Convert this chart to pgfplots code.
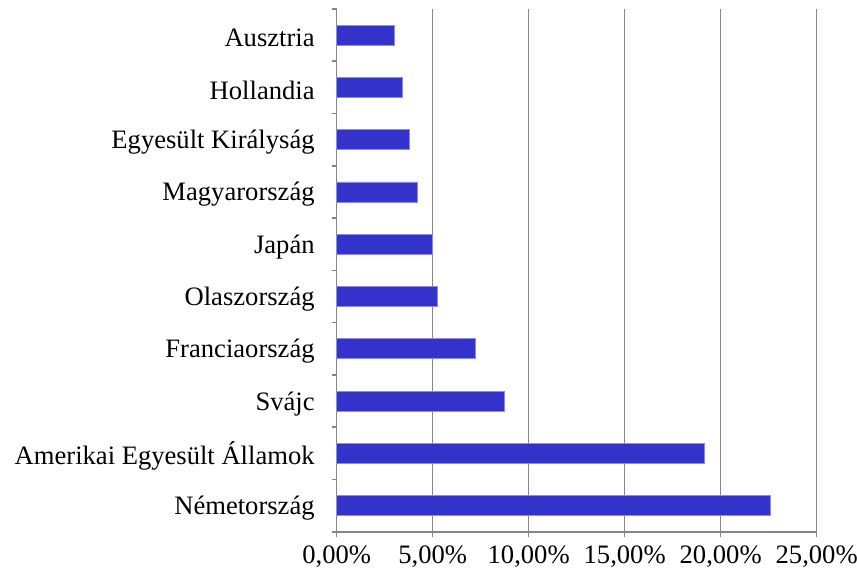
\documentclass[border=0pt]{standalone}
\usepackage{pgfplots}
\pgfplotsset{compat=1.18}
\usepackage{fontspec}
\setmainfont{Liberation Serif}
\definecolor{barfill}{HTML}{3333CC}
\definecolor{baredge}{HTML}{8C8CE6}
\definecolor{gridgray}{HTML}{868686}
\begin{document}
\begin{tikzpicture}
\useasboundingbox (-168.35pt,-23.15pt) rectangle (260.15pt,265.85pt);
\begin{axis}[
  at={(0pt,0pt)}, anchor=south west,
  scale only axis,
  width=240pt, height=261.35pt,
  xmin=0, xmax=25, ymin=-0.5, ymax=9.5,
  axis x line=bottom, axis y line=left,
  axis line style={gridgray, line width=0.8pt, -},
  xtick={0,5,10,15,20,25},
  xticklabels={{0,00\%},{5,00\%},{10,00\%},{15,00\%},{20,00\%},{25,00\%}},
  ytick={0,...,9},
  yticklabels={Németország,Amerikai Egyesült Államok,Svájc,Franciaország,Olaszország,Japán,Magyarország,Egyesült Királyság,Hollandia,Ausztria},
  minor ytick={-0.5,0.5,...,9.5},
  ymajorgrids=false, xmajorgrids=true,
  major grid style={gridgray, line width=0.8pt},
  tick align=outside,
  x tick style={gridgray, line width=0.8pt},
  y tick style={gridgray, line width=0.8pt},
  major tick length=2.5pt,
  major y tick style={draw=none},
  minor tick length=2.5pt,
  tick label style={font=\fontsize{13.3}{16}\selectfont, text=black},
  yticklabel style={xshift=-5pt, yshift=-1.3pt},
  xticklabel style={yshift=-1pt},
  xbar, bar width=10pt,
  clip=false,
]
\addplot[fill=barfill, draw=baredge, line width=0.4pt] coordinates {
  (22.58,0) (19.13,1) (8.72,2) (7.25,3) (5.22,4) (4.96,5) (4.19,6) (3.80,7) (3.43,8) (3.03,9)
};
\end{axis}
\end{tikzpicture}
\end{document}
